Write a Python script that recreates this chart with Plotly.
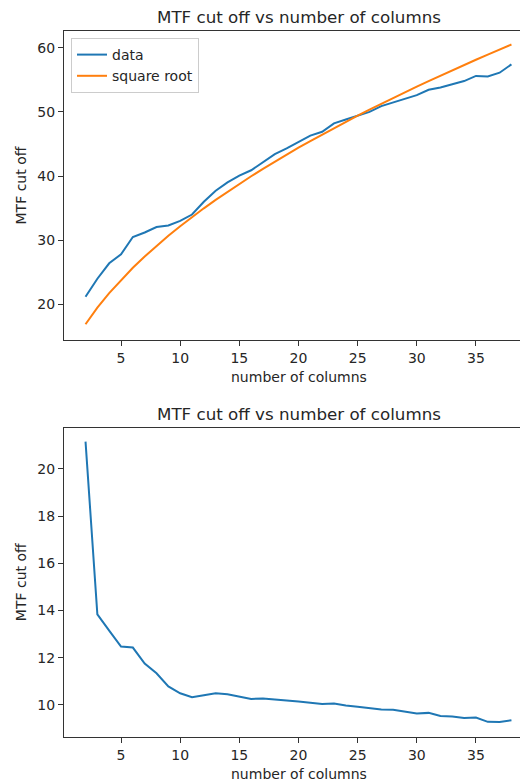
import plotly.graph_objects as go

columns = list(range(2, 39))
data_top = [21.2, 24.0, 26.4, 27.8, 30.5, 31.2, 32.05, 32.3, 33.0, 34.0,
            36.0, 37.7, 39.0, 40.05, 40.9, 42.2, 43.4, 44.3, 45.35, 46.3,
            46.9, 48.2, 48.8, 49.4, 50.0, 50.9, 51.5, 52.0, 52.6, 53.45,
            53.8, 54.3, 54.8, 55.6, 55.5, 56.1, 57.4]
square_root = [16.9, 19.48, 21.75, 23.81, 25.70, 27.46, 29.12, 30.68, 32.17, 33.60,
               34.97, 36.28, 37.55, 38.78, 39.97, 41.12, 42.25, 43.34, 44.41, 45.45,
               46.47, 47.47, 48.45, 49.40, 50.34, 51.27, 52.17, 53.06, 53.94, 54.80,
               55.65, 56.48, 57.31, 58.12, 58.92, 59.71, 60.49]
data_bottom = [21.16, 13.84, 13.15, 12.47, 12.43, 11.75, 11.34, 10.78, 10.49, 10.32,
               10.41, 10.49, 10.45, 10.35, 10.25, 10.27, 10.24, 10.18, 10.14, 10.08,
               10.04, 10.06, 9.97, 9.92, 9.85, 9.80, 9.79, 9.70, 9.63, 9.66,
               9.53, 9.51, 9.44, 9.46, 9.28, 9.27, 9.35]

x_ticks = [5, 10, 15, 20, 25, 30, 35]
y_ticks_top = [20, 30, 40, 50, 60]
y_ticks_bottom = [10, 12, 14, 16, 18, 20]

title_text = "MTF cut off vs number of columns"
x_label = "number of columns"
y_label = "MTF cut off"

# page body has an 8px default margin; size the figure to fill the rest of the window
OFF = 8
W, H = 528 - OFF, 783 - OFF
FONT = "DejaVu Sans"
BLUE = "#1f77b4"
ORANGE = "#ff7f0e"
TXT = "#262626"


def fx(px):
    return (px - OFF) / W


def fy(py):
    return 1 - (py - OFF) / H


fig = go.Figure()
fig.add_trace(go.Scatter(x=columns, y=data_top, mode="lines", name="data",
                         line=dict(color=BLUE, width=2), xaxis="x", yaxis="y"))
fig.add_trace(go.Scatter(x=columns, y=square_root, mode="lines", name="square root",
                         line=dict(color=ORANGE, width=2), xaxis="x", yaxis="y"))
fig.add_trace(go.Scatter(x=columns, y=data_bottom, mode="lines", name="data",
                         line=dict(color=BLUE, width=2), xaxis="x2", yaxis="y2",
                         showlegend=False))

top_dom = [fy(340), fy(31)]
bot_dom = [fy(736.7), fy(427.7)]
x_dom = [fx(64), 1.0]

axis_common = dict(showline=True, linecolor="#333", linewidth=1, ticks="outside",
                   ticklen=5, tickwidth=1, tickcolor="#333", showgrid=False,
                   zeroline=False, automargin=False,
                   tickfont=dict(family=FONT, size=14, color=TXT))

fig.update_layout(
    width=W, height=H,
    margin=dict(l=0, r=0, t=0, b=0, autoexpand=False),
    paper_bgcolor="white", plot_bgcolor="white",
    font=dict(family=FONT, color=TXT),
    xaxis=dict(domain=x_dom, anchor="y", range=[0.18, 39.4], tickvals=x_ticks,
               mirror=True, **axis_common),
    yaxis=dict(domain=top_dom, anchor="x", range=[14.45, 62.6], tickvals=y_ticks_top,
               **axis_common),
    xaxis2=dict(domain=x_dom, anchor="y2", range=[0.18, 39.4], tickvals=x_ticks,
                mirror=True, **axis_common),
    yaxis2=dict(domain=bot_dom, anchor="x2", range=[8.65, 21.75], tickvals=y_ticks_bottom,
                **axis_common),
    legend=dict(x=fx(71), y=fy(38), xanchor="left", yanchor="top",
                bordercolor="#cccccc", borderwidth=1, bgcolor="rgba(255,255,255,0.8)",
                font=dict(family=FONT, size=14, color=TXT),
                itemwidth=30, tracegroupgap=0),
    showlegend=True,
)

cx = fx(299)
ann = []
for ty, ly in [(17, 377), (414, 774)]:
    ann.append(dict(text=title_text, x=cx, y=fy(ty), xref="paper", yref="paper",
                    xanchor="center", yanchor="middle", showarrow=False,
                    font=dict(family=FONT, size=16.7, color=TXT)))
    ann.append(dict(text=x_label, x=cx, y=fy(ly), xref="paper", yref="paper",
                    xanchor="center", yanchor="middle", showarrow=False,
                    font=dict(family=FONT, size=14, color=TXT)))
for my in [185.5, 582.2]:
    ann.append(dict(text=y_label, x=fx(21), y=fy(my), xref="paper", yref="paper",
                    xanchor="center", yanchor="middle", showarrow=False, textangle=-90,
                    font=dict(family=FONT, size=14, color=TXT)))
fig.update_layout(annotations=ann)

fig.write_html("out.html")
